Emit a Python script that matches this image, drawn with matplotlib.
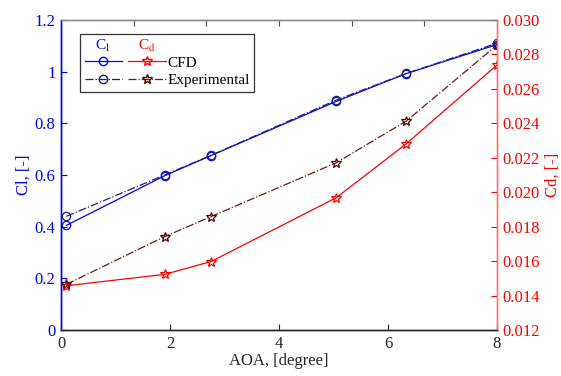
import matplotlib
matplotlib.use("Agg")
import matplotlib.pyplot as plt
from matplotlib.lines import Line2D
from matplotlib.legend_handler import HandlerTuple
from matplotlib.ticker import FormatStrFormatter

plt.rcParams["font.family"] = ["Liberation Serif", "DejaVu Serif"]
plt.rcParams["mathtext.fontset"] = "stix"

# ── data ─────────────────────────────────────────────────────────────────────
aoa        = [0.1, 1.9, 2.75, 5.05, 6.33, 8.0]
cl_cfd     = [0.405, 0.597, 0.675, 0.885, 0.992, 1.105]
cl_exp     = [0.440, 0.600, 0.676, 0.890, 0.993, 1.110]
cd_cfd     = [0.01457, 0.01523, 0.01597, 0.01968, 0.02280, 0.02739]
cd_exp     = [0.01465, 0.01742, 0.01858, 0.02171, 0.02412, 0.02855]

cl_ticks   = [0, 0.2, 0.4, 0.6, 0.8, 1, 1.2]
cl_labels  = ["0", "0.2", "0.4", "0.6", "0.8", "1", "1.2"]
cd_ticks   = [0.012, 0.014, 0.016, 0.018, 0.020, 0.022, 0.024, 0.026, 0.028, 0.030]
x_ticks    = [0, 2, 4, 6, 8]

BLUE   = (0.0, 0.0, 1.0)
NAVY   = (0.12, 0.12, 0.45)
RED    = (1.0, 0.0, 0.0)
MAROON = (0.45, 0.08, 0.08)
DARK   = (0.15, 0.15, 0.15)

fig = plt.figure(figsize=(5.61, 3.76), dpi=100)
ax1 = fig.add_axes([61 / 561, 46 / 376, 436 / 561, 310 / 376])
ax2 = ax1.twinx()

# Cl on left axis
ax1.plot(aoa, cl_cfd, "-", color=BLUE, lw=0.9, marker="o", ms=6,
         mfc="none", mec=BLUE, mew=0.9)
ax1.plot(aoa, cl_exp, "-.", color=NAVY, lw=0.9, marker="o", ms=6,
         mfc="none", mec=NAVY, mew=0.9)

# Cd on right axis
ax2.plot(aoa, cd_cfd, "-", color=RED, lw=0.9, marker="*", ms=7.5,
         mfc="none", mec=RED, mew=0.9)
ax2.plot(aoa, cd_exp, "-.", color=MAROON, lw=0.9, marker="*", ms=7.5,
         mfc="none", mec=(0.3, 0.0, 0.0), mew=0.9)

ax1.set_xlim(0, 8)
ax1.set_ylim(0, 1.2)
ax2.set_ylim(0.012, 0.030)

ax1.set_xticks(x_ticks)
ax1.set_yticks(cl_ticks)
ax1.set_yticklabels(cl_labels)
ax2.set_yticks(cd_ticks)
ax2.yaxis.set_major_formatter(FormatStrFormatter("%.3f"))

ax1.tick_params(axis="x", direction="in", colors=DARK, labelsize=12, length=4, pad=4)
ax1.tick_params(axis="y", direction="in", colors=BLUE, labelsize=12, length=4, pad=4)
ax2.tick_params(axis="y", direction="in", colors=RED, labelsize=12, length=4, pad=4)

ax1.set_xlabel("AOA, [degree]", fontsize=12, color=DARK, labelpad=1)
ax1.set_ylabel("Cl, [-]", fontsize=12, color=BLUE, labelpad=2)
ax2.set_ylabel("Cd, [-]", fontsize=12, color=RED, labelpad=3)

# spines
for ax in (ax1, ax2):
    ax.spines["left"].set_color(BLUE)
    ax.spines["right"].set_color((1.0, 0.45, 0.45))
    ax.spines["top"].set_color((0.55, 0.55, 0.55))
    ax.spines["bottom"].set_color(DARK)
    for s in ax.spines.values():
        s.set_linewidth(1.0)

# top axis ticks (leftover from second axes, 6 intervals, no labels)
top = ax1.secondary_xaxis("top")
top.set_xticks([8 * i / 6 for i in range(1, 6)])
top.tick_params(direction="in", length=4, color=(0.3, 0.3, 0.3), labeltop=False)
top.spines["top"].set_visible(False)

# legend: two handle columns (Cl, Cd) per row
h_cl_cfd = Line2D([], [], color=BLUE, lw=0.9, marker="o", ms=6, mfc="none")
h_cd_cfd = Line2D([], [], color=RED, lw=0.9, marker="*", ms=7.5, mfc="none")
h_cl_exp = Line2D([], [], color=NAVY, lw=0.9, ls="-.", marker="o", ms=6, mfc="none")
h_cd_exp = Line2D([], [], color=MAROON, lw=0.9, ls="-.", marker="*", ms=7.5, mfc="none",
                  mec=(0.3, 0.0, 0.0))
blank = Line2D([], [], color="none")

leg = ax2.legend([(blank, blank), (h_cl_cfd, h_cd_cfd), (h_cl_exp, h_cd_exp)],
                 ["Experimental", "CFD", "Experimental"],
                 handler_map={tuple: HandlerTuple(ndivide=None, pad=0.4)},
                 loc="upper left", bbox_to_anchor=(0.0436, 0.955),
                 borderaxespad=0, fontsize=11, handlelength=5.3,
                 handletextpad=0.1, labelspacing=0.25, borderpad=0.3,
                 fancybox=False, framealpha=1, edgecolor=(0.2, 0.2, 0.2))
leg.get_frame().set_linewidth(0.9)
leg.get_texts()[0].set_alpha(0)

ax2.text(0.096, 0.915, r"C$_\mathrm{l}$", transform=ax1.transAxes, color=BLUE,
         fontsize=11, ha="center", va="center", zorder=10)
ax2.text(0.198, 0.915, r"C$_\mathrm{d}$", transform=ax1.transAxes, color=RED,
         fontsize=11, ha="center", va="center", zorder=10)

fig.savefig("out.png", dpi=100)
